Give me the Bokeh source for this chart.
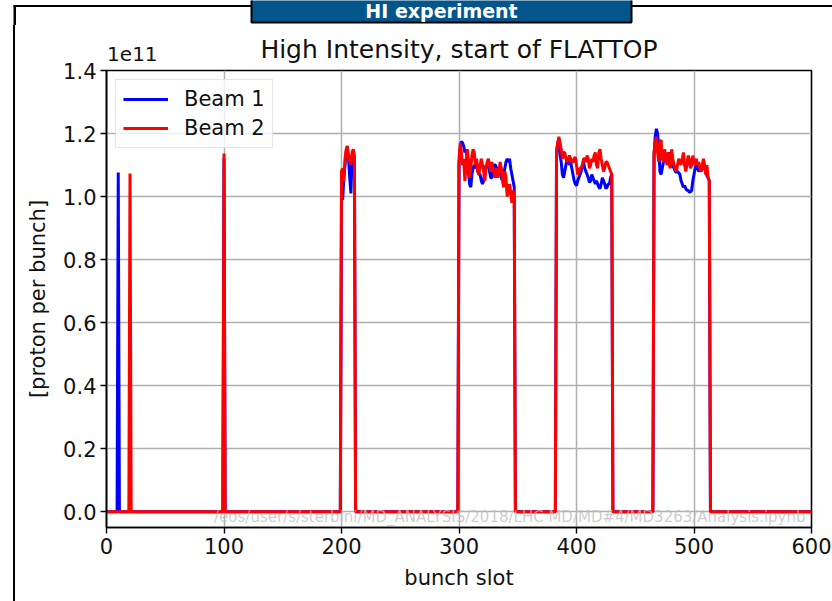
import numpy as np
from bokeh.plotting import figure
from bokeh.layouts import column, row
from bokeh.models import (Range1d, Label, Legend, LegendItem, LinearAxis, Div,
                          FixedTicker, PrintfTickFormatter)
from bokeh.core.properties import value
from bokeh.embed import file_html
from bokeh.resources import INLINE

# ---------------- data (intensity in units of 1e11 protons) ----------------
n_slots = 601  # bunch slots 0..600 shown

b1_single_slots = [10, 100]
b1_single_vals = [1.076, 1.12]
b2_single_slots = [20, 100]
b2_single_vals = [1.073, 1.137]

train_first_slots = [200, 300, 383, 466]

b1_train1 = [1.00, 0.99, 1.06, 1.10, 1.14, 1.16, 1.12, 1.06, 1.01, 1.13, 1.14, 1.12]
b2_train1 = [1.08, 1.09, 1.05, 1.12, 1.15, 1.16, 1.11, 1.13, 1.10, 1.14, 1.15, 1.13]

b1_train2 = [1.10, 1.15, 1.175, 1.17, 1.16, 1.14, 1.15, 1.12, 1.08, 1.04, 1.03, 1.07,
             1.09, 1.10, 1.09, 1.10, 1.08, 1.07, 1.07, 1.05, 1.04, 1.05, 1.08, 1.10,
             1.09, 1.10, 1.08, 1.06, 1.06, 1.08, 1.10, 1.10, 1.09, 1.08, 1.09, 1.07,
             1.06, 1.05, 1.07, 1.09, 1.11, 1.12, 1.11, 1.12, 1.09, 1.07, 1.05, 1.03]
b2_train2 = [1.12, 1.17, 1.14, 1.10, 1.12, 1.05, 1.10, 1.15, 1.12, 1.06, 1.09, 1.13,
             1.15, 1.14, 1.10, 1.12, 1.08, 1.07, 1.10, 1.12, 1.10, 1.08, 1.05, 1.09,
             1.11, 1.12, 1.10, 1.08, 1.11, 1.09, 1.07, 1.06, 1.09, 1.06, 1.08, 1.11,
             1.09, 1.05, 1.03, 1.08, 1.06, 1.00, 1.02, 1.04, 1.01, 0.98, 1.02, 1.00]

b1_train3 = [1.14, 1.17, 1.18, 1.13, 1.11, 1.07, 1.06, 1.08, 1.10, 1.12, 1.12, 1.10,
             1.11, 1.09, 1.07, 1.05, 1.04, 1.035, 1.05, 1.06, 1.07, 1.08, 1.10, 1.11,
             1.09, 1.08, 1.07, 1.06, 1.045, 1.05, 1.07, 1.06, 1.05, 1.04, 1.05, 1.04,
             1.03, 1.025, 1.04, 1.06, 1.05, 1.04, 1.025, 1.03, 1.04, 1.04, 1.06, 1.07]
b2_train3 = [1.14, 1.17, 1.19, 1.17, 1.15, 1.12, 1.14, 1.14, 1.12, 1.11, 1.12, 1.13,
             1.12, 1.11, 1.11, 1.12, 1.125, 1.10, 1.07, 1.08, 1.09, 1.09, 1.10, 1.12,
             1.12, 1.11, 1.13, 1.12, 1.09, 1.10, 1.12, 1.11, 1.13, 1.14, 1.10, 1.09,
             1.14, 1.15, 1.12, 1.10, 1.08, 1.09, 1.11, 1.11, 1.10, 1.09, 1.08, 1.07]

b1_train4 = [1.13, 1.19, 1.215, 1.20, 1.16, 1.08, 1.07, 1.09, 1.11, 1.13, 1.12, 1.12,
             1.13, 1.14, 1.13, 1.11, 1.10, 1.09, 1.08, 1.077, 1.08, 1.075, 1.07, 1.05,
             1.04, 1.03, 1.035, 1.025, 1.02, 1.02, 1.014, 1.015, 1.02, 1.05, 1.07, 1.09,
             1.10, 1.09, 1.08, 1.085, 1.08, 1.09, 1.10, 1.09, 1.08, 1.067, 1.06, 1.05]
b2_train4 = [1.14, 1.17, 1.19, 1.14, 1.11, 1.17, 1.18, 1.12, 1.11, 1.15, 1.13, 1.10,
             1.14, 1.10, 1.09, 1.15, 1.12, 1.10, 1.09, 1.08, 1.10, 1.12, 1.11, 1.10,
             1.12, 1.14, 1.10, 1.08, 1.10, 1.13, 1.12, 1.09, 1.10, 1.13, 1.11, 1.10,
             1.12, 1.10, 1.11, 1.09, 1.08, 1.10, 1.12, 1.10, 1.07, 1.10, 1.06, 1.05]

x_ticks = [0, 100, 200, 300, 400, 500, 600]
y_ticks = [0.0, 0.2, 0.4, 0.6, 0.8, 1.0, 1.2, 1.4]

title_text = "High Intensity, start of FLATTOP"
offset_text = "1e11"
header_text = "HI experiment"
watermark_text = "/eos/user/s/sterbini/MD_ANALYSIS/2018/LHC MD/MD#4/MD3263/Analysis.ipynb"


def build(single_slots, single_vals, trains):
    y = np.zeros(n_slots)
    for s, v in zip(single_slots, single_vals):
        y[s] = v
    for first, vals in zip(train_first_slots, trains):
        y[first:first + len(vals)] = vals
    return y


slots = np.arange(n_slots)
beam1 = build(b1_single_slots, b1_single_vals, [b1_train1, b1_train2, b1_train3, b1_train4])
beam2 = build(b2_single_slots, b2_single_vals, [b2_train1, b2_train2, b2_train3, b2_train4])

# ---------------- layout geometry ----------------
W, H = 832, 601
TOP = 25          # height of the top strip (slide header)
LSTRIP = 16       # width of the left strip (slide border)
FL, FR, FT, FB = 106, 811, 70, 527
FONT = "DejaVu Sans"

# ---- top strip: slide border and header box ----
top = figure(width=W, height=TOP, output_backend="svg", toolbar_location=None,
             x_range=Range1d(0, W), y_range=Range1d(0, TOP),
             x_axis_location=None, y_axis_location=None,
             min_border=0, min_border_left=0, min_border_right=0,
             min_border_top=0, min_border_bottom=0)
top.grid.visible = False
top.outline_line_color = None
top.background_fill_color = "white"
top.border_fill_color = "white"
top.quad(left=[13], right=[W + 5], top=[TOP - 4.5], bottom=[TOP - 6.5],
         fill_color="black", line_color=None)
top.quad(left=[13], right=[15.5], top=[TOP - 4.5], bottom=[-3],
         fill_color="black", line_color=None)
top.quad(left=[251], right=[631], top=[TOP + 5], bottom=[TOP - 22],
         fill_color="#03558c", line_color="black", line_width=2)
top.text(x=[441], y=[TOP - 10.5], text=[header_text], text_align="center",
         text_baseline="middle", text_font=value(FONT), text_font_size="19px",
         text_font_style="bold", text_color="white")

# ---- left strip: slide border ----
left = Div(text="", width=LSTRIP, height=H - TOP, margin=0,
           styles={"background": "linear-gradient(to right, white 13px, black 13px, "
                                 "black 15.5px, white 15.5px)"})

# ---- main chart ----
p = figure(width=W - LSTRIP, height=H - TOP, output_backend="svg", toolbar_location=None,
           x_range=Range1d(0, 600), y_range=Range1d(-0.05, 1.4),
           min_border_left=FL - LSTRIP, min_border_right=W - FR,
           min_border_top=FT - TOP, min_border_bottom=H - FB)

p.background_fill_color = "white"
p.border_fill_color = "white"
p.outline_line_color = "black"
p.outline_line_width = 1.6

for ax in (p.xaxis[0], p.yaxis[0]):
    ax.axis_line_color = "black"
    ax.axis_line_width = 1.6
    ax.major_tick_line_color = "black"
    ax.major_tick_line_width = 1.4
    ax.major_tick_out = 6
    ax.major_tick_in = 0
    ax.minor_tick_line_color = None
    ax.major_label_text_font = FONT
    ax.major_label_text_font_size = "21px"
    ax.major_label_text_color = "#111111"
    ax.major_label_standoff = 4
    ax.axis_label_text_font = FONT
    ax.axis_label_text_font_size = "21px"
    ax.axis_label_text_font_style = "normal"
    ax.axis_label_text_color = "#111111"

p.xaxis[0].ticker = FixedTicker(ticks=x_ticks)
p.yaxis[0].ticker = FixedTicker(ticks=y_ticks)
p.yaxis[0].formatter = PrintfTickFormatter(format="%.1f")
p.xaxis[0].axis_label = "bunch slot"
p.yaxis[0].axis_label = "[proton per bunch]"
p.xaxis[0].axis_label_standoff = 9
p.yaxis[0].axis_label_standoff = 10

# top axis used only to carry the offset text ("1e11") and the chart title
offset_slot = 22
top_axis = LinearAxis(ticker=FixedTicker(ticks=[offset_slot]),
                      major_label_overrides={offset_slot: offset_text},
                      axis_label=title_text)
top_axis.axis_line_color = None
top_axis.major_tick_line_color = None
top_axis.minor_tick_line_color = None
top_axis.major_tick_out = 0
top_axis.major_tick_in = 0
top_axis.major_label_standoff = 10
top_axis.major_label_text_font = FONT
top_axis.major_label_text_font_size = "20px"
top_axis.major_label_text_color = "#111111"
top_axis.axis_label_standoff = -20
top_axis.axis_label_text_font = FONT
top_axis.axis_label_text_font_size = "25px"
top_axis.axis_label_text_font_style = "normal"
top_axis.axis_label_text_color = "#111111"
p.add_layout(top_axis, "above")

p.xgrid[0].ticker = FixedTicker(ticks=x_ticks)
p.ygrid[0].ticker = FixedTicker(ticks=y_ticks)
for g in (p.xgrid[0], p.ygrid[0]):
    g.grid_line_color = "#b0b0b0"
    g.grid_line_width = 1.5

# watermark (inside the frame)
p.add_layout(Label(x=594.9, y=-0.016, text=watermark_text,
                   text_align="right", text_baseline="middle", text_font=FONT,
                   text_font_size="15px", text_color="#bdbdbd", text_alpha=0.75))

r1 = p.line(slots, beam1, line_color="#0000ff", line_width=3)
r2 = p.line(slots, beam2, line_color="#ff0000", line_width=3)

legend = Legend(items=[LegendItem(label="Beam 1", renderers=[r1]),
                       LegendItem(label="Beam 2", renderers=[r2])],
                location="top_left")
legend.label_text_font = FONT
legend.label_text_font_size = "21px"
legend.label_text_color = "#111111"
legend.glyph_width = 45
legend.glyph_height = 22
legend.label_standoff = 16
legend.padding = 7
legend.spacing = 5
legend.margin = 9
legend.border_line_color = "#cccccc"
legend.border_line_width = 1.5
legend.background_fill_color = "white"
legend.background_fill_alpha = 0.8
p.add_layout(legend)

layout = column(top, row(left, p, spacing=0), spacing=0)

open("out.html", "w").write(file_html(layout, INLINE))
